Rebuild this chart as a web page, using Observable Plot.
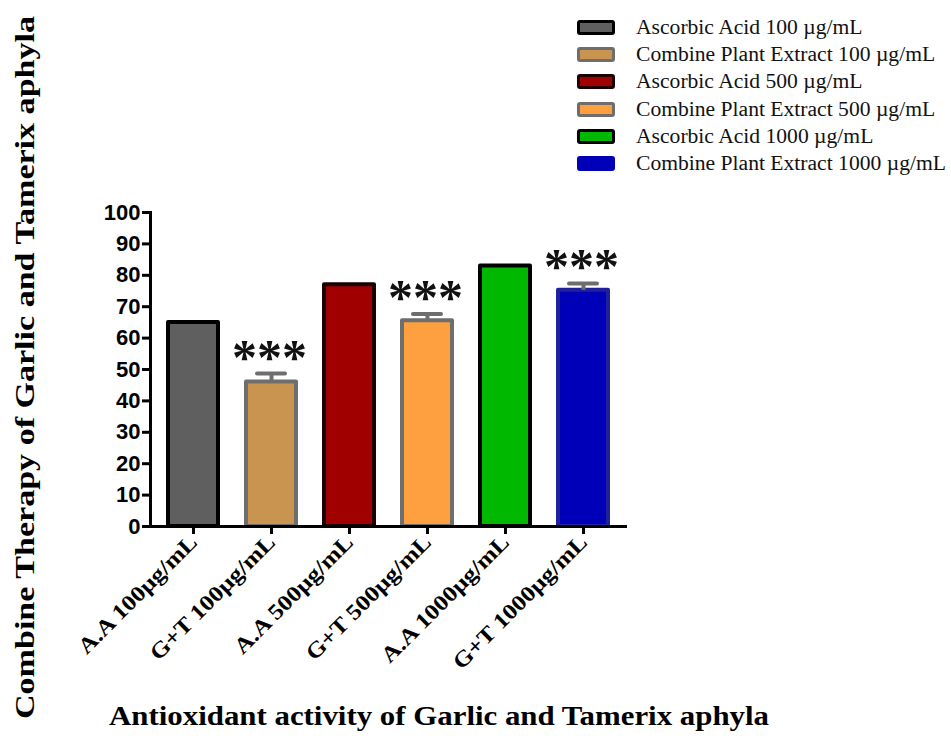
<!DOCTYPE html>
<html><head><meta charset="utf-8">
<script src="https://cdn.jsdelivr.net/npm/d3@7"></script>
<script src="https://cdn.jsdelivr.net/npm/@observablehq/plot@0.6"></script>
<style>
body{margin:0;background:#fff;}
#wrap{position:relative;width:951px;height:740px;overflow:hidden;}
#legend{position:absolute;left:577px;top:14px;font-family:"Liberation Serif","Times New Roman",serif;font-size:21.6px;color:#111;}
.row{display:flex;align-items:center;height:27.2px;white-space:nowrap;}
.sw{width:32px;height:9px;border:3px solid #000;border-radius:3px;margin-right:21px;flex:none;}
</style></head><body><div id="wrap"><div id="legend"></div></div>
<script>
const categories = ["A.A 100µg/mL","G+T 100µg/mL","A.A 500µg/mL","G+T 500µg/mL","A.A 1000µg/mL","G+T 1000µg/mL"];
const means = [65, 46, 77, 65.5, 83, 75.2];
const errors = [0, 2.7, 0, 2.2, 0, 2.2];
const significance = ["", "***", "", "***", "", "***"];
const legendLabels = ["Ascorbic Acid 100 µg/mL","Combine Plant Extract 100 µg/mL","Ascorbic Acid 500 µg/mL","Combine Plant Extract 500 µg/mL","Ascorbic Acid 1000 µg/mL","Combine Plant Extract 1000 µg/mL"];
const fillColors = ["#5f5f5f","#c8944f","#a00000","#ffa040","#00b800","#0000b8"];
const strokeColors = ["#000000","#6e6e6e","#1a0000","#6e6e6e","#000000","#20209a"];
const yTicks = [0,10,20,30,40,50,60,70,80,90,100];
const yTitle = "Combine Therapy of Garlic and Tamerix aphyla";
const xTitle = "Antioxidant activity of Garlic and Tamerix aphyla";

const data = categories.map((c, i) => ({cat: c, mean: means[i], err: errors[i], sig: significance[i], fill: fillColors[i], stroke: strokeColors[i]}));
const withErr = data.filter(d => d.err > 0);

const plot = Plot.plot({
  width: 951, height: 740,
  marginLeft: 150, marginRight: 324, marginTop: 212, marginBottom: 214,
  style: {background: "#fff", overflow: "visible"},
  x: {domain: categories, paddingInner: 0.33, paddingOuter: 0.195, label: null},
  y: {domain: [0, 100], label: null},
  marks: [
    Plot.barY(data, {x: "cat", y: "mean", fill: d => d.fill, stroke: d => d.stroke, strokeWidth: 4, strokeLinejoin: "round", insetLeft: 1, insetRight: 1}),
    Plot.ruleX(withErr, {x: "cat", y1: "mean", y2: d => d.mean + d.err, stroke: "#6e6e6e", strokeWidth: 4}),
    Plot.tickY(withErr, {x: "cat", y: d => d.mean + d.err, stroke: "#6e6e6e", strokeWidth: 4, strokeLinecap: "round", insetLeft: 12, insetRight: 12}),
    Plot.text(withErr, {x: "cat", y: d => d.mean + d.err, text: "sig", dy: 0, dx: -2, lineAnchor: "bottom", fontSize: 50, fontWeight: "bold", fontFamily: "Liberation Serif, Times New Roman", fill: "#111", letterSpacing: 7}),
    Plot.ruleY([0], {stroke: "#000", strokeWidth: 3}),
    Plot.frame({anchor: "left", stroke: "#000", strokeWidth: 3}),
    Plot.axisY({ticks: yTicks, tickSize: 8, tickPadding: 2, strokeWidth: 3, fontSize: 22, fontWeight: "bold", fontFamily: "Liberation Sans, Arial", fill: "#000", label: null}),
    Plot.axisX({tickRotate: -45, tickSize: 8, tickPadding: 4, strokeWidth: 3, fontSize: 22, fontWeight: "bold", fontFamily: "Liberation Serif, Times New Roman", fill: "#000", label: null}),
    Plot.text([yTitle], {frameAnchor: "left", textAnchor: "middle", dx: -125, dy: -2, rotate: -90, fontSize: 27, fontWeight: "bold", fontFamily: "Liberation Serif, Times New Roman", fill: "#000"}),
    Plot.text([xTitle], {frameAnchor: "bottom", textAnchor: "middle", dx: 50, dy: 198, fontSize: 27, fontWeight: "bold", fontFamily: "Liberation Serif, Times New Roman", fill: "#000"})
  ]
});
document.getElementById("wrap").prepend(plot);

// stretch texts along their baseline to match the reference's proportions
function stretch(el, len) {
  el.setAttribute("textLength", len);
  el.setAttribute("lengthAdjust", "spacingAndGlyphs");
}
d3.select(plot).selectAll("text").each(function() {
  const t = this.textContent;
  if (t === yTitle) stretch(this, 703);
  else if (t === xTitle) stretch(this, 660);
  else if (categories.includes(t)) stretch(this, this.getComputedTextLength() * 1.15);
});

const legend = document.getElementById("legend");
legendLabels.forEach((l, i) => {
  const row = document.createElement("div");
  row.className = "row";
  const sw = document.createElement("div");
  sw.className = "sw";
  sw.style.background = fillColors[i];
  sw.style.borderColor = i === 5 ? fillColors[i] : strokeColors[i];
  const t = document.createElement("span");
  t.textContent = l;
  row.appendChild(sw); row.appendChild(t);
  legend.appendChild(row);
});
</script></body></html>
